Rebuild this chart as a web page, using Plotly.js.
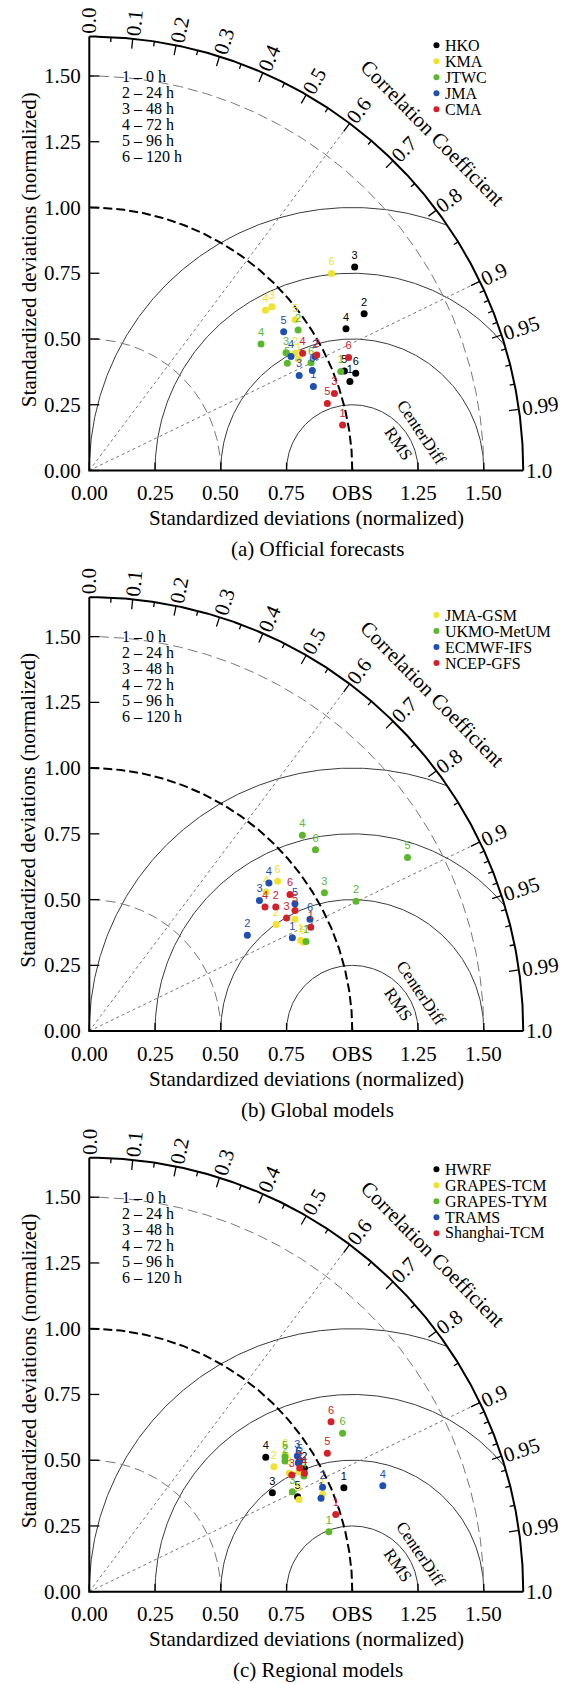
<!DOCTYPE html>
<html><head><meta charset="utf-8">
<script src="https://cdn.plot.ly/plotly-3.0.1.min.js"></script>
<style>html,body{margin:0;padding:0;background:#fff}#chart{width:568px;height:1684px}</style>
</head><body><div id="chart"></div>
<script>
// ---------------- DATA ----------------
const leadLabels = ['1','2','3','4','5','6'];
const leadTimeLegend = ['1 – 0 h','2 – 24 h','3 – 48 h','4 – 72 h','5 – 96 h','6 – 120 h'];
const corrMajor = [0.1,0.2,0.3,0.4,0.5,0.6,0.7,0.8,0.9,0.95,0.99];
const corrMinor = [0.05,0.15,0.25,0.35,0.45,0.55,0.65,0.75,0.85,0.91,0.92,0.93,0.94,0.96,0.97,0.98];
const corrLabelVals = [0.0,0.1,0.2,0.3,0.4,0.5,0.6,0.7,0.8,0.9,0.95,0.99,1.0];
const corrLabelText = ['0.0','0.1','0.2','0.3','0.4','0.5','0.6','0.7','0.8','0.9','0.95','0.99','1.0'];
const stdTicks = [0,0.25,0.5,0.75,1.0,1.25,1.5];
const xTickText = ['0.00','0.25','0.50','0.75','OBS','1.25','1.50'];
const yTickText = ['0.00','0.25','0.50','0.75','1.00','1.25','1.50'];
const panelCaptions = ['(a) Official forecasts','(b) Global models','(c) Regional models'];

// (a) Official forecasts  (x = std·R, y = std·sin, normalized), lead 1..6
const officialNames = ['HKO','KMA','JTWC','JMA','CMA'];
const HKO_x  = [0.991,1.045,1.009,0.976,0.970,1.013];
const HKO_y  = [0.338,0.596,0.774,0.539,0.378,0.370];
const KMA_x  = [0.795,0.782,0.694,0.670,0.783,0.921];
const KMA_y  = [0.423,0.446,0.623,0.609,0.573,0.749];
const JTWC_x = [0.956,0.794,0.748,0.653,0.753,0.843];
const JTWC_y = [0.376,0.534,0.448,0.481,0.408,0.410];
const JMA_x  = [0.852,0.858,0.798,0.767,0.739,0.848];
const JMA_y  = [0.319,0.433,0.361,0.433,0.528,0.380];
const CMA_x  = [0.963,0.865,0.932,0.811,0.905,0.986];
const CMA_y  = [0.173,0.439,0.293,0.446,0.255,0.430];

// (b) Global models
const globalNames = ['JMA-GSM','UKMO-MetUM','ECMWF-IFS','NCEP-GFS'];
const GSM_x  = [0.804,0.710,0.782,0.672,0.814,0.716];
const GSM_y  = [0.345,0.405,0.425,0.529,0.338,0.570];
const UKMO_x = [0.824,1.014,0.894,0.810,1.210,0.860];
const UKMO_y = [0.341,0.494,0.526,0.745,0.660,0.690];
const ECMWF_x= [0.772,0.601,0.647,0.683,0.782,0.839];
const ECMWF_y= [0.355,0.364,0.497,0.563,0.484,0.425];
const NCEP_x = [0.842,0.709,0.750,0.668,0.782,0.763];
const NCEP_y = [0.395,0.472,0.430,0.472,0.459,0.519];

// (c) Regional models
const regionalNames = ['HWRF','GRAPES-TCM','GRAPES-TYM','TRAMS','Shanghai-TCM'];
const HWRF_x  = [0.968,0.818,0.696,0.671,0.792,0.796];
const HWRF_y  = [0.395,0.469,0.376,0.511,0.361,0.490];
const GTCM_x  = [0.887,0.702,0.760,0.797,0.797,0.745];
const GTCM_y  = [0.371,0.475,0.450,0.456,0.351,0.520];
const GTYM_x  = [0.911,0.744,0.772,0.816,0.744,0.963];
const GTYM_y  = [0.228,0.497,0.380,0.440,0.513,0.602];
const TRAMS_x = [0.881,0.887,0.791,1.116,0.800,0.795];
const TRAMS_y = [0.355,0.397,0.516,0.403,0.500,0.490];
const SH_x    = [0.937,0.800,0.770,0.818,0.905,0.919];
const SH_y    = [0.294,0.470,0.444,0.450,0.526,0.646];

const cBlack='#000000', cYellow='#f0e22e', cGreen='#5bb82d', cBlue='#1f4fb3', cRed='#d5202a';

// ---------------- LAYOUT CONSTANTS ----------------
const W=568, H=1684, U=263, OX=89.3;
const OY=[470.5,1031.1,1591.7];
const BOUNDS=[0,560.5,1121.1,H];
const RMAX=1.65;
const SERIF='"Liberation Serif", "Times New Roman", serif';
const SANS='"Liberation Sans", Arial, sans-serif';

const panels=[
 {names:officialNames, colors:[cBlack,cYellow,cGreen,cBlue,cRed],
  xs:[HKO_x,KMA_x,JTWC_x,JMA_x,CMA_x], ys:[HKO_y,KMA_y,JTWC_y,JMA_y,CMA_y], legTop:1.617},
 {names:globalNames, colors:[cYellow,cGreen,cBlue,cRed],
  xs:[GSM_x,UKMO_x,ECMWF_x,NCEP_x], ys:[GSM_y,UKMO_y,ECMWF_y,NCEP_y], legTop:1.582},
 {names:regionalNames, colors:[cBlack,cYellow,cGreen,cBlue,cRed],
  xs:[HWRF_x,GTCM_x,GTYM_x,TRAMS_x,SH_x], ys:[HWRF_y,GTCM_y,GTYM_y,TRAMS_y,SH_y], legTop:1.606}
];

const traces=[], annotations=[];
const layout={width:W,height:H,margin:{l:0,r:0,t:0,b:0},paper_bgcolor:'#fff',plot_bgcolor:'rgba(0,0,0,0)',showlegend:false};

function arcPts(cx,cy,r,a0,a1,n){
  const x=[],y=[];
  for(let i=0;i<=n;i++){const a=a0+(a1-a0)*i/n;x.push(cx+r*Math.cos(a));y.push(cy+r*Math.sin(a));}
  return {x,y};
}

panels.forEach((p,k)=>{
  const s=k===0?'':String(k+1);
  const xa='x'+s, ya='y'+s;
  layout['xaxis'+s]={domain:[0,1],range:[-OX/U,(W-OX)/U],visible:false,fixedrange:true,anchor:ya};
  layout['yaxis'+s]={domain:[1-BOUNDS[k+1]/H,1-BOUNDS[k]/H],range:[-(BOUNDS[k+1]-OY[k])/U,(OY[k]-BOUNDS[k])/U],visible:false,fixedrange:true,anchor:xa};
  const line=(x,y,l)=>traces.push({type:'scatter',mode:'lines',x:x,y:y,xaxis:xa,yaxis:ya,line:l,hoverinfo:'skip',showlegend:false});
  const ann=(x,y,text,o)=>annotations.push(Object.assign({xref:xa,yref:ya,x:x,y:y,text:text,showarrow:false,borderpad:0,
      font:{family:SERIF,size:21,color:'#000'}},o||{}));

  // RMS circles around OBS
  [0.25,0.5,0.75,1.0].forEach(rho=>{
    let p0=0;
    if(1+rho>RMAX){const xi=(RMAX*RMAX+1-rho*rho)/2, yi=Math.sqrt(RMAX*RMAX-xi*xi); p0=Math.atan2(yi,xi-1);}
    const a=arcPts(1,0,rho,p0,Math.PI,300);
    line(a.x,a.y,{color:'#3a3a3a',width:1});
  });
  // std dashed circles
  [0.5,1.5].forEach(r=>{const a=arcPts(0,0,r,0,Math.PI/2,300);line(a.x,a.y,{color:'#777',width:1,dash:'10px,5px'});});
  // correlation dotted rays
  [0.6,0.9].forEach(c=>{line([0,RMAX*c],[0,RMAX*Math.sqrt(1-c*c)],{color:'#777',width:1,dash:'dot'});});
  // reference std = 1
  {const a=arcPts(0,0,1,0,Math.PI/2,300);line(a.x,a.y,{color:'#000',width:2,dash:'9px,4px'});}
  // outer arc & axes
  {const a=arcPts(0,0,RMAX,0,Math.PI/2,400);line(a.x,a.y,{color:'#000',width:2});}
  line([0,0,RMAX],[RMAX,0,0],{color:'#000',width:2});
  // arc ticks
  const tk=(vals,len)=>{const x=[],y=[];vals.forEach(c=>{const t=Math.acos(c);x.push(RMAX*Math.cos(t),(RMAX-len/U)*Math.cos(t),null);y.push(RMAX*Math.sin(t),(RMAX-len/U)*Math.sin(t),null);});line(x,y,{color:'#000',width:1.3});};
  tk(corrMajor,10); tk(corrMinor,5);
  // std axis ticks
  {const x=[],y=[];stdTicks.forEach(v=>{x.push(0,10/U,null);y.push(v,v,null);});line(x,y,{color:'#000',width:1.3});}
  {const x=[],y=[];stdTicks.forEach(v=>{x.push(v,v,null);y.push(0,8/U,null);});line(x,y,{color:'#000',width:1.3});}

  // tick labels
  stdTicks.forEach((v,i)=>{
    ann(-7.6/U,v,yTickText[i],{xanchor:'right',yanchor:'middle'});
    ann(v,-22.5/U,xTickText[i],{xanchor:'center',yanchor:'middle'});
  });
  // correlation labels
  corrLabelVals.forEach((c,i)=>{
    const t=Math.acos(c), txt=corrLabelText[i];
    const w=21*(0.5*(txt.length-1)+0.25);
    const r=RMAX+(3+w/2)/U;
    ann(r*Math.cos(t),r*Math.sin(t),txt,{xanchor:'center',yanchor:'middle',textangle:-t*180/Math.PI});
  });
  {const r=1.83,t=44.5*Math.PI/180;ann(r*Math.cos(t),r*Math.sin(t),'Correlation Coefficient',{xanchor:'center',yanchor:'middle',textangle:45.5});}
  ann(1.262,0.143,'CenterDiff',{xanchor:'center',yanchor:'middle',textangle:56,font:{family:SERIF,size:17,color:'#000'}});
  ann(1.174,0.101,'RMS',{xanchor:'center',yanchor:'middle',textangle:56,font:{family:SERIF,size:17,color:'#000'}});
  // titles
  ann(-0.231,0.84,'Standardized deviations (normalized)',{xanchor:'center',yanchor:'middle',textangle:-90});
  ann(0.827,-47.5/U,'Standardized deviations (normalized)',{xanchor:'center',yanchor:'middle'});
  ann(0.869,-78.5/U,panelCaptions[k],{xanchor:'center',yanchor:'middle'});
  // lead-time key
  leadTimeLegend.forEach((t,i)=>ann(0.119,1.5-i*16/U,t,{xanchor:'left',yanchor:'middle',font:{family:SERIF,size:16,color:'#000'}}));

  // data series
  p.names.forEach((nm,j)=>{
    traces.push({type:'scatter',mode:'markers+text',name:nm,x:p.xs[j],y:p.ys[j],xaxis:xa,yaxis:ya,
      text:leadLabels,textposition:'top center',textfont:{family:SANS,size:11,color:p.colors[j]},
      marker:{size:7,color:p.colors[j]},cliponaxis:false,hoverinfo:'skip',showlegend:false});
  });
  // legend
  const lx=1.32, ly=p.names.map((n,j)=>p.legTop-j*16/U);
  traces.push({type:'scatter',mode:'markers',x:p.names.map(()=>lx),y:ly,xaxis:xa,yaxis:ya,
    marker:{size:6,color:p.colors},hoverinfo:'skip',showlegend:false,cliponaxis:false});
  p.names.forEach((nm,j)=>ann(lx+8/U,ly[j],nm,{xanchor:'left',yanchor:'middle',font:{family:SERIF,size:16,color:'#000'}}));
});
layout.annotations=annotations;
Plotly.newPlot('chart',traces,layout,{staticPlot:true,displayModeBar:false});
</script></body></html>
